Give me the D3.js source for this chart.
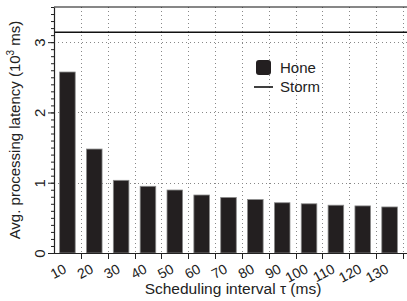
<!DOCTYPE html>
<html>
<head>
<meta charset="utf-8">
<script src="https://cdn.jsdelivr.net/npm/d3@7"></script>
<style>
body { margin: 0; background: #fff; }
text { font-family: "Liberation Sans", Arial, sans-serif; }
</style>
</head>
<body>
<svg class="chart" width="407" height="301"></svg>
<script>
var intervals = ["10","20","30","40","50","60","70","80","90","100","110","120","130"];
var hone = [2.575, 1.479, 1.034, 0.949, 0.896, 0.825, 0.79, 0.76, 0.715, 0.70, 0.68, 0.67, 0.655];
var storm = 3.14;
var yTicks = [0, 1, 2, 3];

var svg = d3.select(".chart");
var pl = 54, pr = 403, pt = 7, pb = 253;

var x = d3.scaleBand().domain(intervals).range([pl, pr]).paddingInner(0.42).paddingOuter(0.21);
var xb = d3.scaleBand().domain(intervals).range([pl, pr]);
var y = d3.scaleLinear().domain([0, 3.5]).range([pb, pt]);

function edge(d) { return Math.round(xb(d) + xb.bandwidth()) + 0.5; }

// grid
var grid = svg.append("g").attr("stroke", "#888").attr("stroke-dasharray", "1,3").attr("stroke-width", 1);
grid.selectAll(".vg").data(intervals).enter().append("line")
  .attr("x1", edge).attr("x2", edge)
  .attr("y1", pt).attr("y2", pb);
grid.selectAll(".hg").data(yTicks.slice(1)).enter().append("line")
  .attr("x1", pl).attr("x2", 407)
  .attr("y1", function(d) { return Math.round(y(d)) + 0.5; })
  .attr("y2", function(d) { return Math.round(y(d)) + 0.5; });

// bars
svg.selectAll(".bar").data(hone).enter().append("rect")
  .attr("x", function(d, i) { return x(intervals[i]); })
  .attr("y", function(d) { return y(d); })
  .attr("width", x.bandwidth())
  .attr("height", function(d) { return pb - y(d); })
  .attr("fill", "#231f20")
  .attr("stroke", "#8a8a8a")
  .attr("stroke-width", 0.8);

// storm line and top frame
svg.append("line").attr("x1", pl).attr("x2", 407)
  .attr("y1", y(storm)).attr("y2", y(storm))
  .attr("stroke", "#111").attr("stroke-width", 1.6);
svg.append("line").attr("x1", pl).attr("x2", 407)
  .attr("y1", pt).attr("y2", pt)
  .attr("stroke", "#111").attr("stroke-width", 1.2);

// y axis
svg.append("g")
  .attr("transform", "translate(" + pl + ",0)")
  .call(d3.axisLeft(y).tickValues(d3.range(0, 3.51, 0.1)).tickSize(3).tickFormat(""))
  .call(function(g) { g.select(".domain").remove(); g.selectAll("line").attr("stroke", "#222"); });
var ya = svg.append("g")
  .attr("transform", "translate(" + pl + ",0)")
  .call(d3.axisLeft(y).tickValues(yTicks).tickFormat(d3.format("d")).tickSize(6).tickSizeOuter(0));
ya.select(".domain").attr("stroke", "#222").attr("stroke-width", 1.2);
ya.selectAll(".tick line").attr("stroke", "#222");
ya.selectAll(".tick text")
  .attr("font-size", 15).attr("fill", "#222")
  .attr("text-anchor", "middle")
  .attr("transform", "rotate(-90)")
  .attr("x", 0).attr("y", -9).attr("dy", "0");

// x axis
var xa = svg.append("g")
  .attr("transform", "translate(0," + pb + ")")
  .call(d3.axisBottom(x).tickSize(0).tickSizeOuter(0));
xa.select(".domain").attr("d", "M" + pl + ",0.5H407").attr("stroke", "#222").attr("stroke-width", 1.2);
xa.selectAll(".tick text")
  .attr("font-size", 14).attr("fill", "#222")
  .attr("text-anchor", "end")
  .attr("dy", "0")
  .attr("y", 0)
  .attr("transform", "translate(0,19) rotate(-28)");
xa.selectAll(".bt").data(intervals).enter().append("line")
  .attr("x1", edge).attr("x2", edge)
  .attr("y1", 0).attr("y2", 6)
  .attr("stroke", "#222");

// axis titles
svg.append("text")
  .attr("x", 233).attr("y", 294)
  .attr("text-anchor", "middle")
  .attr("font-size", 15.5).attr("fill", "#222")
  .text("Scheduling interval τ (ms)");
svg.append("text")
  .attr("transform", "translate(20," + ((pt + pb) / 2) + ") rotate(-90)")
  .attr("text-anchor", "middle")
  .attr("font-size", 15).attr("fill", "#222")
  .html("Avg. processing latency (10<tspan dy='-6' font-size='10'>3</tspan><tspan dy='6'> ms)</tspan>");

// legend
var lg = svg.append("g").attr("transform", "translate(256,60)");
lg.append("rect").attr("width", 15).attr("height", 15).attr("rx", 3)
  .attr("fill", "#231f20");
lg.append("text").attr("x", 24).attr("y", 13).attr("font-size", 15).attr("fill", "#222").text("Hone");
lg.append("line").attr("x1", -2).attr("x2", 17).attr("y1", 27).attr("y2", 27)
  .attr("stroke", "#111").attr("stroke-width", 1.6);
lg.append("text").attr("x", 24).attr("y", 32).attr("font-size", 15).attr("fill", "#222").text("Storm");
</script>
</body>
</html>
